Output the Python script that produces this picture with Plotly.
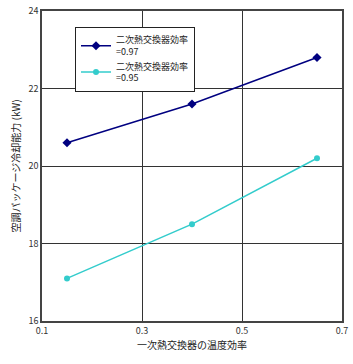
import plotly.graph_objects as go

x_vals = [0.15, 0.4, 0.65]
series1 = [20.6, 21.6, 22.8]
series2 = [17.1, 18.5, 20.2]
name1 = "二次熱交換器効率<br>=0.97"
name2 = "二次熱交換器効率<br>=0.95"
x_ticks = [0.1, 0.3, 0.5, 0.7]
y_ticks = [16, 18, 20, 22, 24]

font = "Noto Sans CJK JP"
fig = go.Figure()
fig.add_trace(go.Scatter(x=x_vals, y=series1, mode="lines+markers", name=name1,
                         line=dict(color="#000080", width=1.5),
                         marker=dict(symbol="diamond", size=7, color="#000080")))
fig.add_trace(go.Scatter(x=x_vals, y=series2, mode="lines+markers", name=name2,
                         line=dict(color="#33CCCC", width=1.5),
                         marker=dict(symbol="circle", size=6, color="#33CCCC")))

fig.update_layout(
    width=353, height=364,
    margin=dict(l=42, r=11, t=11, b=43),
    paper_bgcolor="white", plot_bgcolor="white",
    font=dict(family=font, size=10, color="#222"),
    showlegend=True,
    legend=dict(x=0.11, y=0.95, xanchor="left", yanchor="top",
                bordercolor="#222", borderwidth=1, bgcolor="white",
                font=dict(size=9, family=font), tracegroupgap=0,
                itemwidth=30),
    xaxis=dict(range=[0.1, 0.7], tickvals=x_ticks, ticktext=[str(v) for v in x_ticks],
               showgrid=True, gridcolor="#333", gridwidth=1, automargin=False,
               showline=True, linecolor="#444", linewidth=1.5, mirror=True,
               zeroline=False, ticks="", tickfont=dict(size=9, color="#333"),
               title=dict(text="一次熱交換器の温度効率", font=dict(size=10), standoff=6)),
    yaxis=dict(range=[16, 24], tickvals=y_ticks, automargin=False,
               showgrid=True, gridcolor="#333", gridwidth=1,
               showline=True, linecolor="#444", linewidth=1.5, mirror=True,
               zeroline=False, ticks="", tickfont=dict(size=9, color="#333"),
               title=dict(text="空調パッケージ冷却能力 (kW)", font=dict(size=10), standoff=6)),
)
fig.write_html("out.html")
